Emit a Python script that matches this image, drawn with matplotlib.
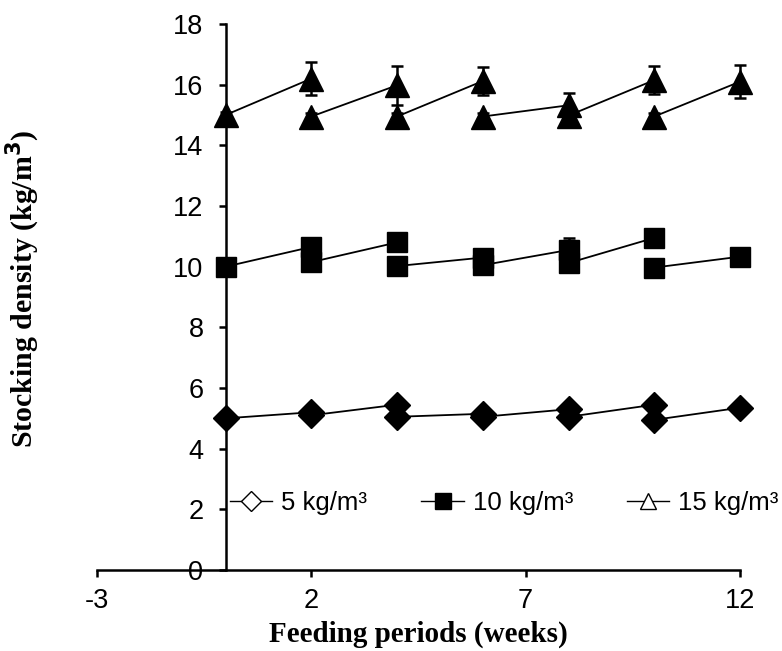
import matplotlib
matplotlib.use("Agg")
import matplotlib.pyplot as plt
from matplotlib.lines import Line2D

# ---- data ----
weeks = [0, 2, 4, 6, 8, 10, 12]
# value at start of each 2-week period (after thinning) and at end of period
d5_start = [5.0, 5.1, 5.05, 5.05, 5.05, 4.95]
d5_end = [5.2, 5.45, 5.15, 5.3, 5.45, 5.35]
d5_start_err = [0.05, 0.05, 0.05, 0.05, 0.05, 0.05]
d5_end_err = [0.08, 0.08, 0.06, 0.08, 0.08, 0.06]

d10_start = [10.0, 10.15, 10.02, 10.05, 10.12, 9.97]
d10_end = [10.65, 10.8, 10.3, 10.55, 10.95, 10.33]
d10_start_err = [0.08, 0.08, 0.08, 0.08, 0.08, 0.1]
d10_end_err = [0.1, 0.1, 0.08, 0.4, 0.15, 0.08]

d15_start = [15.0, 14.95, 14.95, 14.95, 14.98, 14.95]
d15_end = [16.2, 15.98, 16.12, 15.32, 16.15, 16.1]
d15_start_err = [0.1, 0.1, 0.1, 0.1, 0.1, 0.1]
d15_end_err = [0.55, 0.65, 0.45, 0.4, 0.45, 0.55]

legend_labels = ["5 kg/m³", "10 kg/m³", "15 kg/m³"]
xticks = [-3, 2, 7, 12]
yticks = [0, 2, 4, 6, 8, 10, 12, 14, 16, 18]

# ---- figure ----
W, H = 782, 651
fig = plt.figure(figsize=(W / 100, H / 100), dpi=100)
ax = fig.add_axes([97 / W, 1 - 570 / H, (740 - 97) / W, (570 - 24) / H])

tickfont = "Liberation Sans"
labelfont = "Liberation Serif"

series = [
    (d5_start, d5_end, d5_start_err, d5_end_err, "D", 13),
    (d10_start, d10_end, d10_start_err, d10_end_err, "s", 14),
    (d15_start, d15_end, d15_start_err, d15_end_err, "^", 17),
]

for st, en, st_e, en_e, mk, ms in series:
    xs_start = weeks[:-1]
    xs_end = weeks[1:]
    for i in range(len(st)):
        ax.plot([xs_start[i], xs_end[i]], [st[i], en[i]], color="black",
                lw=1.3, zorder=2, clip_on=False)
    ax.errorbar(xs_start, st, yerr=st_e, fmt=mk, ms=ms, color="black",
                ecolor="black", elinewidth=1.8, capsize=4, capthick=1.8,
                zorder=3, clip_on=False)
    ax.errorbar(xs_end, en, yerr=en_e, fmt=mk, ms=ms, color="black",
                ecolor="black", elinewidth=1.8, capsize=4, capthick=1.8,
                zorder=3, clip_on=False)

ax.set_xlim(-3, 12)
ax.set_ylim(0, 18)
ax.spines["left"].set_position(("data", 0))
ax.spines["bottom"].set_position(("data", 0))
ax.spines["top"].set_visible(False)
ax.spines["right"].set_visible(False)
for s in ("left", "bottom"):
    ax.spines[s].set_linewidth(1.8)

ax.set_xticks(xticks)
ax.set_yticks(yticks)
ax.set_xticklabels([str(t) for t in xticks], fontfamily=tickfont, fontsize=19.5)
ax.set_yticklabels([str(t) for t in yticks], fontfamily=tickfont, fontsize=19.5)
ax.tick_params(axis="y", direction="out", length=5, width=1.8, pad=11)
ax.tick_params(axis="x", direction="out", length=5, width=1.8, pad=8)

ax.set_xlabel("Feeding periods (weeks)", fontfamily=labelfont,
              fontweight="bold", fontsize=21, labelpad=0)
ax.xaxis.set_label_coords(0.5, -0.092)
ax.set_ylabel("Stocking density (kg/m$^\\mathbf{3}$)", fontfamily=labelfont,
              fontweight="bold", fontsize=21.5, va="center")
ax.yaxis.set_label_coords(-0.115, 0.516)

handles = [
    Line2D([], [], color="black", lw=1.0, marker="D", ms=10,
           markerfacecolor="white", markeredgecolor="black"),
    Line2D([], [], color="black", lw=1.0, marker="s", ms=11,
           markerfacecolor="black", markeredgecolor="black"),
    Line2D([], [], color="black", lw=1.0, marker="^", ms=12,
           markerfacecolor="white", markeredgecolor="black"),
]
leg = fig.legend(handles, legend_labels, loc="center left",
                 bbox_to_anchor=(230 / W, 1 - 503 / H), ncol=3,
                 frameon=False, handlelength=1.65, handletextpad=0.35,
                 columnspacing=2.1, borderaxespad=0, borderpad=0,
                 prop={"family": tickfont, "size": 18.5})

fig.savefig("out.png", dpi=100)
